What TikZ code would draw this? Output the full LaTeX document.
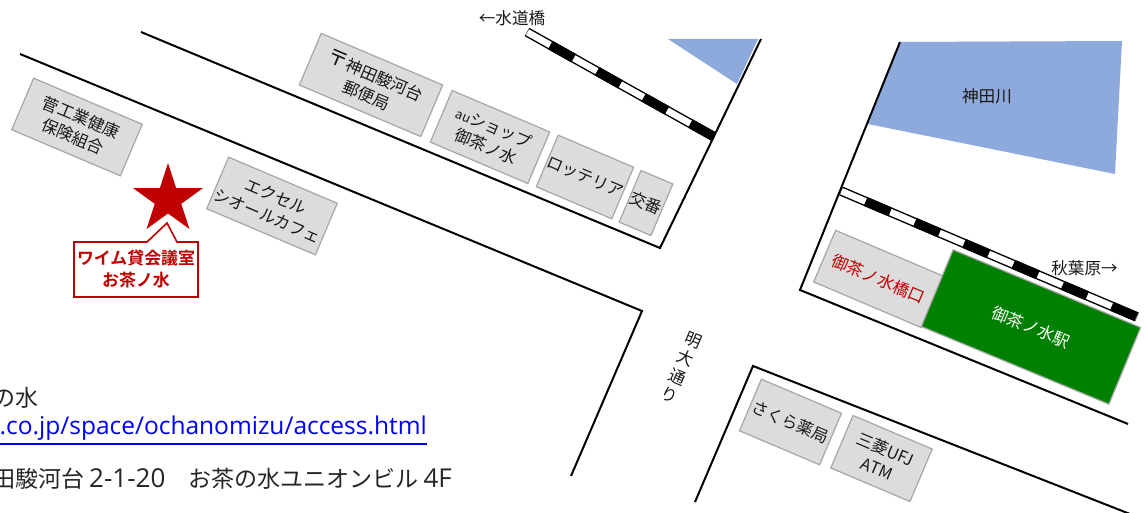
\documentclass[tikz,border=0pt]{standalone}
\usepackage{fontspec}
\setmainfont{Noto Sans CJK JP}
\newfontfamily\boldjp{Noto Sans CJK JP Bold}
\newfontfamily\latinui{Open Sans}
\usetikzlibrary{shapes.geometric}
\definecolor{bldgfill}{HTML}{DCDCDC}
\definecolor{bldgline}{HTML}{A6A6A6}
\definecolor{riverblue}{HTML}{8EA9DB}
\definecolor{stargreen}{HTML}{008000}
\definecolor{mapred}{HTML}{C00000}
\tikzset{
  road/.style={draw=black,line width=2pt,line join=miter},
  bldg/.style={draw=bldgline,line width=1.2pt,fill=bldgfill,rotate=-23,align=center,inner sep=0pt,
    font=\fontsize{16.4}{21}\selectfont,text=black!90},
  river/.style={fill=riverblue,draw=none},
  maplabel/.style={font=\fontsize{16.6}{20}\selectfont,text=black!90,inner sep=0pt},
  railcase/.style={line width=9.5pt,draw=black},
  railwhite/.style={line width=6.6pt,draw=white,shorten >=0.5pt,shorten <=0.5pt},
  railblack/.style={line width=9.5pt,draw=black,dash pattern=on 26.75pt off 26.75pt,dash phase=26.75pt},
  infotext/.style={anchor=base east,inner sep=0pt,font=\fontsize{23}{26}\selectfont,text=black!85},
}
\begin{document}
\begin{tikzpicture}[x=1pt,y=-1pt]
\clip (0,0) rectangle (1146,513);
\fill[white] (0,0) rectangle (1146,513);
% rivers
\fill[river] (668,39) -- (758,39) -- (737,84) -- cycle;
\fill[river] (900,42) -- (1122,41) -- (1115,174) -- (868,124) -- cycle;
% railway
\coordinate (r1a) at (527,32); \coordinate (r1b) at (713.5,136.5);
\coordinate (r2a) at (841,191); \coordinate (r2b) at (1137,317);
\foreach \a/\b in {r1a/r1b,r2a/r2b}{
  \draw[railcase] (\a) -- (\b);
  \draw[railwhite] (\a) -- (\b);
  \draw[railblack] (\a) -- (\b);
}
% roads
\coordinate (a1) at (141,32); \coordinate (a2) at (660,248); \coordinate (a3) at (761,39);
\coordinate (b1) at (20,54); \coordinate (b2) at (642,311); \coordinate (b3) at (571,476);
\coordinate (c1) at (900,42); \coordinate (c2) at (800,290); \coordinate (c3) at (1128,424);
\coordinate (d1) at (695,502); \coordinate (d2) at (753,366); \coordinate (d3) at (1130,514);
\draw[road] (a1) -- (a2) -- (a3);
\draw[road] (b1) -- (b2) -- (b3);
\draw[road] (c1) -- (c2) -- (c3);
\draw[road] (d1) -- (d2) -- (d3);
% buildings
\node[bldg,minimum width=118pt,minimum height=56pt] (kenpo) at (77,127) {菅工業健康\\保険組合};
\node[bldg,minimum width=118pt,minimum height=56pt] (excel) at (272,206) {エクセル\\シオールカフェ};
\node[bldg,minimum width=132pt,minimum height=56pt] (post) at (371,85) {{\fontsize{21}{21}\selectfont 〒}神田駿河台\\郵便局};
\node[bldg,minimum width=106pt,minimum height=56pt] (au) at (490,137) {{\fontsize{13}{21}\selectfont au}ショップ\\御茶ノ水};
\node[bldg,minimum width=80pt,minimum height=56pt] (lotteria) at (585,177) {ロッテリア};
\node[bldg,minimum width=34.5pt,minimum height=56pt] (koban) at (646,203) {交番};
\node[bldg,minimum width=117pt,minimum height=56pt,text=mapred] (gate) at (878.5,279) {御茶ノ水橋口};
\node[bldg,rotate=0.5,fill=stargreen,text=white,minimum width=203pt,minimum height=83pt] (station) at (1031,327) {御茶ノ水駅};
\node[bldg,minimum width=87pt,minimum height=56pt] (sakura) at (790.5,422) {さくら薬局};
\node[bldg,minimum width=86pt,minimum height=57pt] (atm) at (881.5,458.5) {三菱UFJ\\ATM};
% labels
\node[maplabel] (kanda) at (987,96) {神田川};
\node[maplabel] (west) at (512,18) {←水道橋};
\node[maplabel] (east) at (1084.5,268) {秋葉原→};
\node[maplabel,rotate=-23,align=center] (meidai) at (681.5,367.5) {明\\大\\通\\り};
% star and callout
\node[star,star points=5,star point ratio=2.618,minimum size=73pt,inner sep=0pt,fill=mapred] (venue) at (168,199.5) {};
\coordinate (tip) at (167,223);
\coordinate (boxa) at (147,242); \coordinate (boxb) at (74,242); \coordinate (boxc) at (74,297);
\coordinate (boxd) at (198,297); \coordinate (boxe) at (198,242); \coordinate (boxf) at (177,242);
\draw[draw=mapred,line width=1.6pt,fill=white] (tip) -- (boxa) -- (boxb) -- (boxc) -- (boxd) -- (boxe) -- (boxf) -- cycle;
\node[text=mapred,align=center,inner sep=0pt,font=\boldjp\fontsize{16.9}{22}\selectfont] (venuename) at (136,269) {ワイム貸会議室\\お茶ノ水};
% text at the bottom left
\node[infotext] (l1) at (39,406) {の水};
\node[infotext,text=blue,font=\latinui\fontsize{24.5}{28}\selectfont] (l2) at (427,434) {.co.jp/space/ochanomizu/access.html};
\coordinate (u1) at (0,444); \coordinate (u2) at (427,444);
\draw[blue,line width=1.6pt] (u1) -- (u2);
\node[infotext] (l3) at (452,487) {田駿河台 {\latinui\fontsize{26}{26}\selectfont 2-1-20}　お茶の水ユニオンビル {\latinui\fontsize{26}{26}\selectfont 4F}};
\end{tikzpicture}
\end{document}
